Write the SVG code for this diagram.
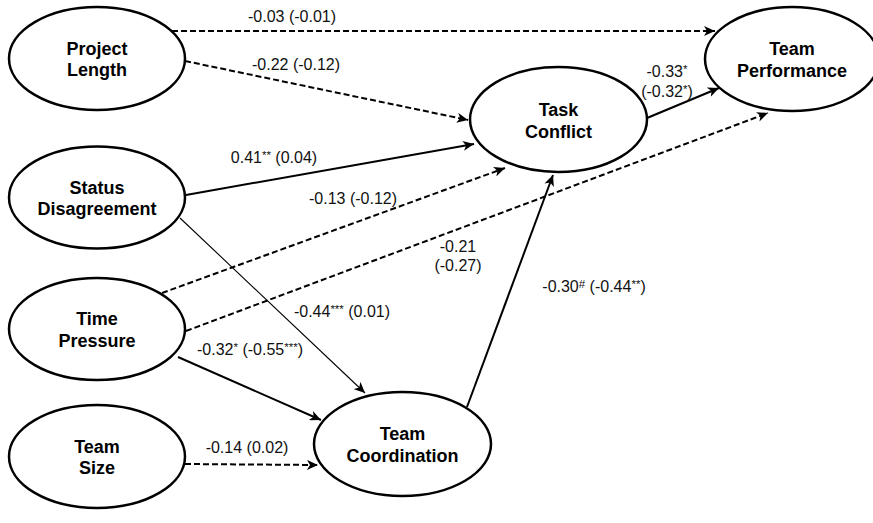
<svg xmlns="http://www.w3.org/2000/svg" width="873" height="523" viewBox="0 0 873 523">
<style>
.node ellipse{fill:#fff;stroke:#000;stroke-width:2.5}
.node text{font-family:"Liberation Sans",Arial,sans-serif;font-weight:bold;font-size:18px;text-anchor:middle;fill:#000}
.e{fill:none;stroke:#000;stroke-width:2}
.d{stroke-dasharray:6 3}
.thin{stroke-width:1.1}
.lbl{font-family:"Liberation Sans",Arial,sans-serif;font-size:16px;fill:#111}
.mid{text-anchor:middle}
.sup{font-size:11.5px}
</style>
<defs>
<marker id="arr" markerUnits="userSpaceOnUse" markerWidth="12" markerHeight="10" refX="11" refY="5" orient="auto">
<path d="M0,0 L11,5 L0,10 L3,5 Z" fill="#000"/>
</marker>
</defs>
<rect width="873" height="523" fill="#fff"/>
<g id="connectors">
<line class="e d" x1="172" y1="31" x2="715" y2="31" marker-end="url(#arr)"/>
<line class="e d" x1="185" y1="61" x2="468" y2="120" marker-end="url(#arr)"/>
<line class="e" x1="647" y1="118" x2="719" y2="88" marker-end="url(#arr)"/>
<line class="e" x1="186" y1="195" x2="474" y2="144" marker-end="url(#arr)"/>
<line class="e d" x1="162" y1="293" x2="505" y2="168" marker-end="url(#arr)"/>
<line class="e d" x1="186" y1="331" x2="768" y2="113" marker-end="url(#arr)"/>
<line class="e thin" x1="180" y1="218" x2="365" y2="393" marker-end="url(#arr)"/>
<line class="e" x1="178" y1="357" x2="321" y2="420" marker-end="url(#arr)"/>
<line class="e d" x1="185" y1="464" x2="318" y2="465" marker-end="url(#arr)"/>
<line class="e" x1="467" y1="407" x2="553" y2="175" marker-end="url(#arr)"/>
<text class="lbl mid" x="292" y="22">-0.03 (-0.01)</text>
<text class="lbl mid" x="296" y="70">-0.22 (-0.12)</text>
<text class="lbl mid" x="667" y="77">-0.33<tspan class="sup" dy="-4">*</tspan></text>
<text class="lbl mid" x="667" y="97">(-0.32<tspan class="sup" dy="-4">*</tspan><tspan dy="4">)</tspan></text>
<text class="lbl mid" x="274" y="163">0.41<tspan class="sup" dy="-4">**</tspan><tspan dy="4"> (0.04)</tspan></text>
<text class="lbl mid" x="353" y="204">-0.13 (-0.12)</text>
<text class="lbl mid" x="458" y="252">-0.21</text>
<text class="lbl mid" x="458" y="271">(-0.27)</text>
<text class="lbl mid" x="342" y="317">-0.44<tspan class="sup" dy="-4">***</tspan><tspan dy="4"> (0.01)</tspan></text>
<text class="lbl mid" x="250" y="355">-0.32<tspan class="sup" dy="-4">*</tspan><tspan dy="4"> (-0.55</tspan><tspan class="sup" dy="-4">***</tspan><tspan dy="4">)</tspan></text>
<text class="lbl mid" x="247" y="453">-0.14 (0.02)</text>
<text class="lbl mid" x="594" y="292">-0.30<tspan class="sup" dy="-4">#</tspan><tspan dy="4"> (-0.44</tspan><tspan class="sup" dy="-4">**</tspan><tspan dy="4">)</tspan></text>
</g>
<g id="project-length" class="node">
<ellipse cx="97" cy="58.5" rx="88" ry="51.5"/>
<text x="97" y="54.5">Project</text>
<text x="97" y="76">Length</text>
</g>
<g id="status-disagreement" class="node">
<ellipse cx="97" cy="197.5" rx="88" ry="51"/>
<text x="97" y="193.5">Status</text>
<text x="97" y="215">Disagreement</text>
</g>
<g id="time-pressure" class="node">
<ellipse cx="97" cy="329" rx="88" ry="51"/>
<text x="97" y="325">Time</text>
<text x="97" y="346.5">Pressure</text>
</g>
<g id="team-size" class="node">
<ellipse cx="97" cy="456.5" rx="88" ry="51.5"/>
<text x="97" y="452.5">Team</text>
<text x="97" y="474">Size</text>
</g>
<g id="task-conflict" class="node">
<ellipse cx="558.5" cy="119.5" rx="88.5" ry="52.5"/>
<text x="558.5" y="116">Task</text>
<text x="558.5" y="137.5">Conflict</text>
</g>
<g id="team-performance" class="node">
<ellipse cx="792" cy="59" rx="87" ry="52"/>
<text x="792" y="55">Team</text>
<text x="792" y="77">Performance</text>
</g>
<g id="team-coordination" class="node">
<ellipse cx="402.5" cy="444" rx="88.5" ry="52"/>
<text x="402.5" y="440">Team</text>
<text x="402.5" y="462">Coordination</text>
</g>
</svg>
